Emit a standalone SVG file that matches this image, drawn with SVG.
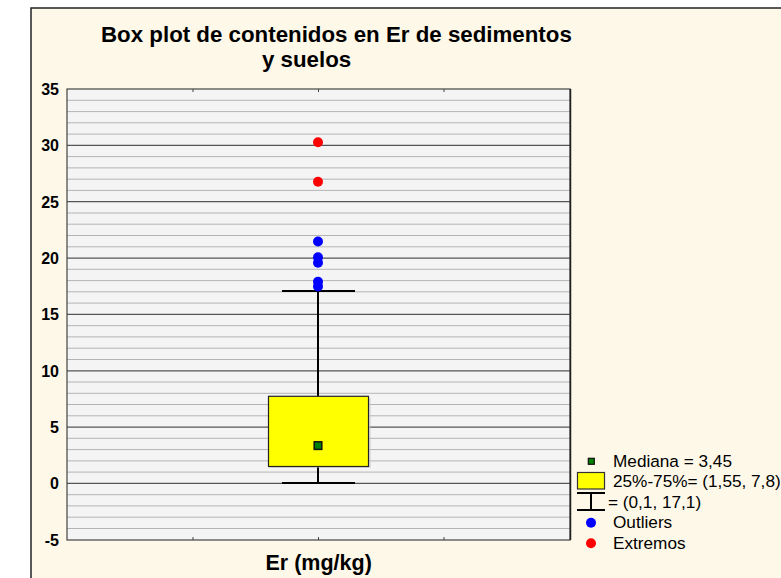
<svg xmlns="http://www.w3.org/2000/svg" width="781" height="578" viewBox="0 0 781 578">
<style>
text{font-family:"Liberation Sans",Arial,sans-serif;fill:#000}
.t{font-size:22.3px;font-weight:bold}
.yl{font-size:16px;font-weight:bold;text-anchor:end}
.lg{font-size:17.2px}
.maj{stroke:#555;stroke-width:1.2}
.min{stroke:#b4b4b4;stroke-width:1}
.wh{stroke:#000;stroke-width:2;fill:none}
.out{fill:#0000ff}
.ext{fill:#ff0000}
</style>
<rect x="0" y="0" width="781" height="578" fill="#fff"/>
<rect id="frame" x="31" y="8" width="800" height="620" fill="#fef8e8" stroke="#222" stroke-width="1.5"/>
<g id="title">
<text class="t" x="101" y="41.5">Box plot de contenidos en Er de sedimentos</text>
<text class="t" x="262" y="66.5">y suelos</text>
</g>
<g id="plot">
<rect x="67" y="89" width="503" height="451" fill="#f4f4f4"/>
<g id="minor-grid" class="min">
<path d="M67 100.3H570M67 111.6H570M67 122.8H570M67 134.1H570M67 156.6H570M67 167.9H570M67 179.2H570M67 190.4H570M67 213H570M67 224.2H570M67 235.5H570M67 246.8H570M67 269.3H570M67 280.6H570M67 291.8H570M67 303.1H570M67 325.7H570M67 336.9H570M67 348.2H570M67 359.5H570M67 382H570M67 393.3H570M67 404.5H570M67 415.8H570M67 438.3H570M67 449.6H570M67 460.9H570M67 472.1H570M67 494.7H570M67 505.9H570M67 517.2H570M67 528.5H570"/>
</g>
<g id="major-grid" class="maj">
<path d="M67 145.4H570M67 201.7H570M67 258.1H570M67 314.4H570M67 370.8H570M67 427.1H570M67 483.4H570"/>
</g>
<rect x="67" y="89" width="503" height="451" fill="none" stroke="#444" stroke-width="1.2"/>
<line x1="570.5" y1="89" x2="570.5" y2="540" stroke="#222" stroke-width="1.5"/>
<path d="M193 89v3M318.5 89v3M444 89v3M193 540v-3M318.5 540v-3M444 540v-3" stroke="#444" stroke-width="1"/>
</g>
<g id="y-axis">
<text class="yl" x="59" y="95">35</text>
<text class="yl" x="59" y="151.4">30</text>
<text class="yl" x="59" y="207.7">25</text>
<text class="yl" x="59" y="264.1">20</text>
<text class="yl" x="59" y="320.4">15</text>
<text class="yl" x="59" y="376.8">10</text>
<text class="yl" x="59" y="433.1">5</text>
<text class="yl" x="59" y="489.4">0</text>
<text class="yl" x="59" y="546">-5</text>
</g>
<g id="x-axis">
<text class="t" x="318.7" y="569.5" text-anchor="middle" style="font-size:21.5px">Er (mg/kg)</text>
</g>
<g id="connectors">
<path class="wh" d="M318 291V396M318 466.5V483M282 291H355M282 483H355"/>
</g>
<g id="box">
<rect x="270" y="398" width="101" height="70" fill="#c8c8c8" opacity="0.5"/>
<rect x="268.5" y="396.3" width="100" height="70.2" fill="#ffff00" stroke="#222" stroke-width="1.2"/>
</g>
<g id="median">
<rect x="314.2" y="441.8" width="7.6" height="7.6" fill="#008000" stroke="#111" stroke-width="1.5"/>
</g>
<g id="outliers">
<circle class="out" cx="318" cy="241.5" r="5"/>
<circle class="out" cx="318" cy="257.3" r="5"/>
<circle class="out" cx="318" cy="262.7" r="5"/>
<circle class="out" cx="318" cy="281.7" r="5"/>
<circle class="out" cx="318" cy="286.5" r="5"/>
</g>
<g id="extremes">
<circle class="ext" cx="318" cy="142.3" r="5"/>
<circle class="ext" cx="318" cy="181.7" r="5"/>
</g>
<g id="legend">
<rect x="588.3" y="458.3" width="6" height="6" fill="#008000" stroke="#111" stroke-width="1.2"/>
<text class="lg" x="613" y="466.7">Mediana = 3,45</text>
<rect x="577.5" y="472.5" width="27" height="16.5" fill="#ffff00" stroke="#333" stroke-width="1.2"/>
<text class="lg" x="613" y="487.3">25%-75%= (1,55, 7,8)</text>
<path class="wh" d="M577 493H605M591 493V510M577 510H605"/>
<text class="lg" x="608" y="508">= (0,1, 17,1)</text>
<circle class="out" cx="591" cy="522.7" r="5"/>
<text class="lg" x="613" y="528.3">Outliers</text>
<circle class="ext" cx="591" cy="543.3" r="5"/>
<text class="lg" x="613" y="549">Extremos</text>
</g>
</svg>
